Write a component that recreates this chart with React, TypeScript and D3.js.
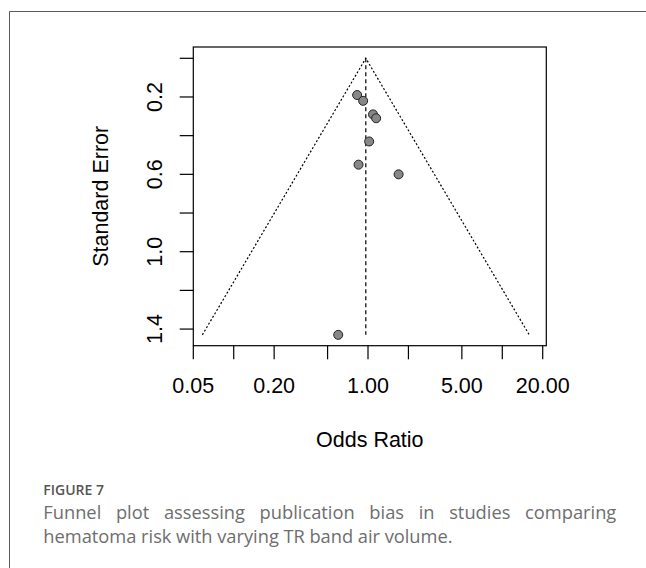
import React, { useEffect, useRef } from "react";
import * as d3 from "d3";

// Study estimates: odds ratio and its standard error
const oddsRatios = [0.83, 0.92, 1.09, 1.15, 1.02, 0.85, 1.69, 0.6];
const standardErrors = [0.19, 0.22, 0.29, 0.31, 0.43, 0.55, 0.6, 1.43];

// Pooled estimate and the largest SE spanned by the funnel
const pooledOR = [0.963];
const funnelSEMax = [1.43];

// Axis ticks
const xTicks = [0.05, 0.1, 0.2, 0.5, 1, 2, 5, 10, 20];
const xTickLabels = ["0.05", "", "0.20", "", "1.00", "", "5.00", "", "20.00"];
const yTicks = [0, 0.2, 0.4, 0.6, 0.8, 1.0, 1.2, 1.4];
const yTickLabels = ["", "0.2", "", "0.6", "", "1.0", "", "1.4"];

const captionTitle = "FIGURE 7";
const captionLines = [
  "Funnel plot assessing publication bias in studies comparing",
  "hematoma risk with varying TR band air volume.",
];

const W = 646;
const H = 568;
const box = { left: 193.3, right: 546.3, top: 47, bottom: 345.7 };
const FONT = "Liberation Sans";
const CAP_FONT = "Open Sans";

export default function App() {
  const ref = useRef<SVGSVGElement | null>(null);

  useEffect(() => {
    const svg = d3.select(ref.current);
    svg.selectAll("*").remove();

    const x = d3
      .scaleLog()
      .domain([0.05, 21.27])
      .range([box.left, box.right]);
    const y = d3
      .scaleLinear()
      .domain([-0.0584, 1.486])
      .range([box.top, box.bottom]);

    // Outer figure frame (open on right and bottom edges)
    svg
      .append("path")
      .attr("d", `M9.5,${H + 2}V11.5H${W + 2}`)
      .attr("fill", "none")
      .attr("stroke", "#5a5a5a")
      .attr("stroke-width", 1);

    // Funnel (pseudo 95% CI) lines
    const c = Math.log(pooledOR[0]);
    const seMax = funnelSEMax[0];
    const lo = Math.exp(c - 1.96 * seMax);
    const hi = Math.exp(c + 1.96 * seMax);
    const line = d3
      .line<[number, number]>()
      .x((d) => x(d[0]))
      .y((d) => y(d[1]));
    svg
      .append("path")
      .attr(
        "d",
        line([
          [lo, seMax],
          [pooledOR[0], 0],
          [hi, seMax],
        ])
      )
      .attr("fill", "none")
      .attr("stroke", "#000")
      .attr("stroke-width", 1.2)
      .attr("stroke-dasharray", "2,2");

    // Pooled estimate
    svg
      .append("line")
      .attr("x1", x(pooledOR[0]))
      .attr("x2", x(pooledOR[0]))
      .attr("y1", y(0))
      .attr("y2", y(seMax))
      .attr("stroke", "#000")
      .attr("stroke-width", 1.2)
      .attr("stroke-dasharray", "4,3");

    // Study points
    svg
      .append("g")
      .selectAll("circle")
      .data(oddsRatios.map((or, i) => ({ or, se: standardErrors[i] })))
      .join("circle")
      .attr("cx", (d) => x(d.or))
      .attr("cy", (d) => y(d.se))
      .attr("r", 4.5)
      .attr("fill", "#878787")
      .attr("stroke", "#222")
      .attr("stroke-width", 1);

    // Plot box
    svg
      .append("rect")
      .attr("x", box.left)
      .attr("y", box.top)
      .attr("width", box.right - box.left)
      .attr("height", box.bottom - box.top)
      .attr("fill", "none")
      .attr("stroke", "#000")
      .attr("stroke-width", 1.2);

    // X axis
    const gx = svg.append("g");
    gx.selectAll("line")
      .data(xTicks)
      .join("line")
      .attr("x1", (d) => x(d))
      .attr("x2", (d) => x(d))
      .attr("y1", box.bottom)
      .attr("y2", box.bottom + 13.6)
      .attr("stroke", "#000")
      .attr("stroke-width", 1.2);
    gx.selectAll("text")
      .data(xTicks.map((t, i) => ({ t, label: xTickLabels[i] })).filter((d) => d.label))
      .join("text")
      .attr("x", (d) => x(d.t))
      .attr("y", 393)
      .attr("text-anchor", "middle")
      .style("font-family", FONT)
      .attr("font-size", 21.5)
      .attr("fill", "#000")
      .text((d) => d.label);

    // Y axis
    const gy = svg.append("g");
    gy.selectAll("line")
      .data(yTicks)
      .join("line")
      .attr("x1", box.left)
      .attr("x2", box.left - 13.6)
      .attr("y1", (d) => y(d))
      .attr("y2", (d) => y(d))
      .attr("stroke", "#000")
      .attr("stroke-width", 1.2);
    gy.selectAll("text")
      .data(yTicks.map((t, i) => ({ t, label: yTickLabels[i] })).filter((d) => d.label))
      .join("text")
      .attr("transform", (d) => `translate(161.5,${y(d.t)}) rotate(-90)`)
      .attr("text-anchor", "middle")
      .style("font-family", FONT)
      .attr("font-size", 21.5)
      .attr("fill", "#000")
      .text((d) => d.label);

    // Axis titles
    svg
      .append("text")
      .attr("x", (box.left + box.right) / 2)
      .attr("y", 446.5)
      .attr("text-anchor", "middle")
      .style("font-family", FONT)
      .attr("font-size", 21.5)
      .attr("fill", "#000")
      .text("Odds Ratio");
    svg
      .append("text")
      .attr("transform", `translate(108,${(box.top + box.bottom) / 2}) rotate(-90)`)
      .attr("text-anchor", "middle")
      .style("font-family", FONT)
      .attr("font-size", 21.5)
      .attr("fill", "#000")
      .text("Standard Error");

    // Caption
    svg
      .append("text")
      .attr("x", 43.3)
      .attr("y", 494.5)
      .style("font-family", CAP_FONT)
      .attr("font-size", 14)
      .attr("font-weight", 600)
      .attr("fill", "#555")
      .text(captionTitle);

    const capLeft = 43.3;
    const capRight = 616.3;
    const capBase = [519.3, 543.3];
    captionLines.forEach((ln, li) => {
      const words = ln.split(" ");
      const g = svg.append("g");
      const nodes = words.map((w) =>
        g
          .append("text")
          .attr("y", capBase[li])
          .style("font-family", CAP_FONT)
          .attr("font-size", 18.3)
          .attr("fill", "#6e6e6e")
          .text(w)
      );
      const widths = nodes.map((n) => (n.node() as SVGTextElement).getComputedTextLength());
      const total = d3.sum(widths);
      const justify = li < captionLines.length - 1;
      const gap = justify ? (capRight - capLeft - total) / (words.length - 1) : 4.6;
      let cx = capLeft;
      nodes.forEach((n, i) => {
        n.attr("x", cx);
        cx += widths[i] + gap;
      });
    });
  }, []);

  return (
    <svg
      ref={ref}
      width={W}
      height={H}
      style={{ position: "absolute", left: 0, top: 0, background: "#fff" }}
    />
  );
}
